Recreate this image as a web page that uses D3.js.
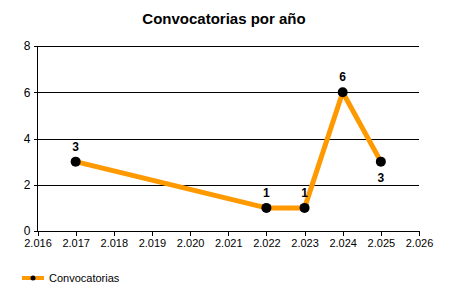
<!DOCTYPE html>
<html>
<head>
<meta charset="utf-8">
<script src="https://cdn.jsdelivr.net/npm/d3@7"></script>
<style>
  body { margin: 0; background: #fff; }
  text { font-family: Arial, "Liberation Sans", sans-serif; fill: #000; }
  .grid line { stroke: #000; stroke-width: 1; }
  .grid .domain { display: none; }
  .axis text { font-size: 11px; }
</style>
</head>
<body>
<div id="chart"></div>
<script>
const title = "Convocatorias por año"
const seriesName = "Convocatorias"
const years = [2017, 2022, 2023, 2024, 2025]
const counts = [3, 1, 1, 6, 3]
const labelBelow = [false, false, false, false, true]
const xTicks = [2016, 2017, 2018, 2019, 2020, 2021, 2022, 2023, 2024, 2025, 2026]
const yTicks = [0, 2, 4, 6, 8]

const W = 450, H = 300
const margin = { top: 46, right: 31, bottom: 69, left: 37.5 }
const width = W - margin.left - margin.right
const height = H - margin.top - margin.bottom

const data = years.map((y, i) => ({ year: y, val: counts[i], below: labelBelow[i] }))

const x = d3.scaleLinear().domain([2016, 2026]).range([0, width])
const y = d3.scaleLinear().domain([0, 8]).range([height, 0])

const svg = d3.select("#chart").append("svg")
  .attr("width", W)
  .attr("height", H)

svg.append("text")
  .attr("x", 224)
  .attr("y", 24)
  .attr("text-anchor", "middle")
  .style("font-size", "15px")
  .style("font-weight", "bold")
  .text(title)

const g = svg.append("g")
  .attr("transform", "translate(" + margin.left + "," + margin.top + ")")

// horizontal gridlines
g.append("g")
  .attr("class", "grid")
  .call(d3.axisLeft(y).tickValues(yTicks).tickSize(-width).tickFormat(""))
  .selectAll("line").attr("shape-rendering", "crispEdges")

const fmt = d => (d / 1000).toFixed(3)

g.append("g")
  .attr("class", "x axis")
  .attr("transform", "translate(0," + height + ")")
  .call(d3.axisBottom(x).tickValues(xTicks).tickSize(5).tickPadding(3).tickFormat(fmt))
  .call(s => s.selectAll("line, path").attr("stroke", "#000").attr("shape-rendering", "crispEdges"))

g.append("g")
  .attr("class", "y axis")
  .call(d3.axisLeft(y).tickValues(yTicks).tickSize(4).tickPadding(3).tickFormat(d3.format("d")))
  .call(s => s.select(".domain").attr("d", "M0," + y(8) + "V" + y(0)))
  .call(s => s.selectAll("line, path").attr("stroke", "#000").attr("shape-rendering", "crispEdges"))
  .call(s => s.selectAll("text").style("font-size", "12px"))

const line = d3.line()
  .x(d => x(d.year))
  .y(d => y(d.val))

g.append("path")
  .datum(data)
  .attr("fill", "none")
  .attr("stroke", "#ff9900")
  .attr("stroke-width", 5)
  .attr("stroke-linejoin", "round")
  .attr("d", line)

g.selectAll("circle.pt")
  .data(data)
  .enter().append("circle")
  .attr("class", "pt")
  .attr("cx", d => x(d.year))
  .attr("cy", d => y(d.val))
  .attr("r", 5)
  .attr("fill", "#000")

g.selectAll("text.lbl")
  .data(data)
  .enter().append("text")
  .attr("class", "lbl")
  .attr("x", d => x(d.year))
  .attr("y", d => y(d.val) + (d.below ? 20 : -11))
  .attr("text-anchor", "middle")
  .style("font-size", "12px")
  .style("font-weight", "bold")
  .text(d => d.val)

// legend
const lg = svg.append("g").attr("transform", "translate(22,278)")
lg.append("line")
  .attr("x1", 0).attr("x2", 22)
  .attr("stroke", "#ff9900").attr("stroke-width", 4)
lg.append("circle").attr("cx", 11).attr("r", 2.5).attr("fill", "#000")
lg.append("text")
  .attr("x", 27).attr("y", 4)
  .style("font-size", "11px")
  .text(seriesName)
</script>
</body>
</html>
